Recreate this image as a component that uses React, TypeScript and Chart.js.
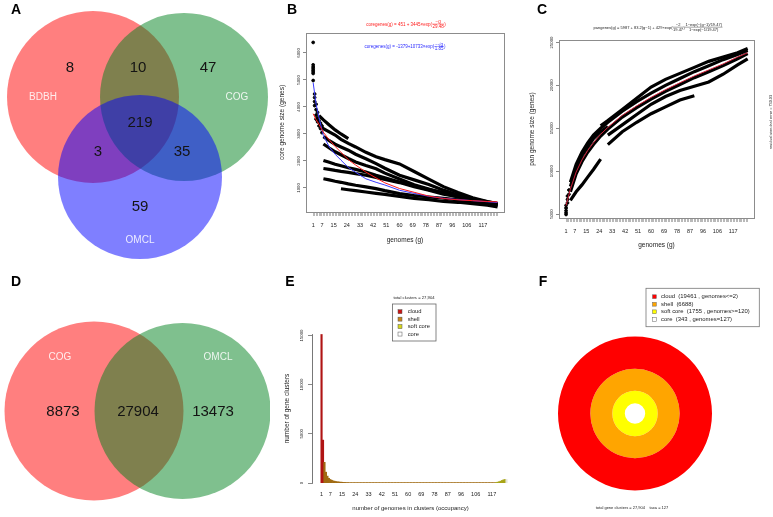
import React, { useEffect, useRef } from 'react';
import { Chart, registerables } from 'chart.js';

Chart.register(...registerables);

const FF = '"Liberation Sans", Arial, Helvetica, sans-serif';

// ================= DATA =================
// Panel A: three-set Venn
const vennASets = ['BDBH', 'COG', 'OMCL'];
// regions: BDBH only, BDBH∩COG, COG only, all three, BDBH∩OMCL, COG∩OMCL, OMCL only
const vennARegionCounts = [8, 10, 47, 219, 3, 35, 59];

// Panel D: two-set Venn
const vennDSets = ['COG', 'OMCL'];
const vennDRegionCounts = [8873, 27904, 13473];

// Panels B, C, E: genome axis
const genomeTickLabels = [1, 7, 15, 24, 33, 42, 51, 60, 69, 78, 87, 96, 106, 117];
const genomeTotal = 127;

// Panel B: core genome
const bGenomes = [1, 3, 5, 8, 12, 16, 20, 25, 30, 37, 44, 50, 60, 70, 80, 90, 100, 110, 120, 127];
const bStrip1 = [null, null, 3680, 3520, 3330, 3150, 3000, 2830, null, null, null, null, null, null, null, null, null, null, null, null];
const bStrip2 = [null, null, 3350, 3200, 3080, 2960, 2800, 2650, 2520, 2320, 2160, 2050, 1890, 1610, 1330, 1050, 830, 640, 500, 420];
const bStrip3 = [null, null, null, 2900, 2750, 2620, 2520, 2400, 2250, 2080, 1900, 1730, 1470, 1300, 1130, 920, 740, 600, 450, 360];
const bStrip4 = [null, null, null, 2630, 2480, 2340, 2230, 2090, 1960, 1830, 1710, 1550, 1330, 1120, 960, 810, 670, 560, 470, 420];
const bStrip5 = [null, null, null, 2020, 1950, 1880, 1820, 1750, 1690, 1590, 1470, 1380, 1220, 1080, 940, 830, 730, 600, 490, 420];
const bStrip6 = [null, null, null, 1720, 1690, 1650, 1615, 1580, 1530, 1470, 1390, 1320, 1200, 1050, 920, 770, 680, 580, 470, 400];
const bStrip7 = [null, null, null, 1340, 1300, 1250, 1210, 1150, 1100, 1040, 975, 900, 790, 720, 665, 620, 560, 480, 420, 360];
const bStrip8 = [null, null, null, null, null, null, 970, 935, 900, 850, 800, 760, 690, 615, 570, 500, 470, 420, 360, 300];
const bFitExp = [3750, 3530, 3350, 3060, 2780, 2540, 2320, 2050, 1850, 1590, 1370, 1190, 980, 840, 700, 610, 560, 530, 500, 485];
const bFitSqrt = [4900, 4100, 3600, 2940, 2520, 2250, 2030, 1760, 1580, 1340, 1210, 1110, 915, 800, 690, 620, 570, 530, 490, 460];
const bEarlyG = [1, 1, 1, 1, 1, 1, 1, 1, 2, 2, 2, 2, 3, 3, 3, 3, 4, 4, 4, 5, 5, 6, 6, 7, 7];
const bEarlyV = [6390, 5560, 5480, 5420, 5360, 5300, 5240, 4980, 4480, 4350, 4200, 4050, 4100, 3900, 3700, 3550, 3800, 3600, 3450, 3500, 3300, 3400, 3200, 3300, 3050];
const bYTicks = [1000, 2000, 3000, 4000, 5000, 6000];

// Panel C: pan genome
const cGenomes = [1, 4, 8, 12, 16, 20, 25, 30, 40, 50, 60, 70, 80, 90, 100, 110, 120, 127];
const cFit = [6000, 7900, 9900, 11300, 12400, 13300, 14300, 15100, 16500, 17600, 18600, 19500, 20300, 21100, 21800, 22500, 23300, 23800];
const cStrip1 = [null, null, null, null, null, null, 15300, 15900, 17200, 18500, 19800, 20700, 21400, 22100, 22800, 23300, 23800, 24300];
const cStrip2 = [null, 8700, 10800, 12200, 13300, 14200, 15000, 15700, 17000, 18100, 19100, 20000, 20800, 21600, 22300, 23000, 23600, 24100];
const cStrip3 = [null, 7600, 9700, 11100, 12200, 13100, 14100, 14900, 16300, 17400, 18400, 19300, 20100, 20900, 21600, 22300, 23100, 23700];
const cStrip4 = [null, 6600, 7600, 8400, 9300, 10200, 11400, null, null, null, null, null, null, null, null, null, null, null];
const cStrip5 = [null, null, null, null, null, null, null, 13100, 14600, 15700, 16700, 17500, 18300, 18800, null, null, null, null];
const cStrip6 = [null, null, null, null, null, null, null, 14200, 15400, 16600, 17800, 18700, 19400, 19900, 20400, 21300, 22400, 23100];
const cStrip7 = [null, 8200, 10300, 11800, 12800, 13800, 14600, 15200, null, null, null, null, null, null, null, null, null, null];
const cEarlyG = [1, 1, 1, 1, 1, 2, 2, 2, 3, 3];
const cEarlyV = [4950, 5150, 5400, 5700, 6000, 6300, 6700, 7100, 7300, 7800];
const cYTicks = [5000, 10000, 15000, 20000, 25000];

// Panel E: occupancy histogram (occupancy 1..127)
const eCounts = [
  15100, 4361,
  2100, 1100, 700, 480, 360, 280, 220, 180, 150, 125, 105, 90, 78,
  66, 57, 50, 44, 39, 35, 31, 28, 25, 23, 21, 19, 17, 16, 15,
  14, 13, 12, 11, 10, 9, 8, 8, 7, 7, 6, 6, 5, 5, 5,
  4, 4, 4, 4, 3, 3, 3, 3, 3, 2, 2, 2, 2, 2, 2,
  1, 1, 1, 1, 1, 1, 1, 1, 1, 1, 1, 1, 1, 1, 1, 1, 1, 1, 1, 1, 1, 1, 1, 1, 1,
  1, 1, 1, 1, 1, 1, 1, 1, 1, 1, 1, 1, 1, 1, 1, 1, 1, 1, 1, 1, 1, 1, 1, 1, 1,
  1, 1, 1, 2, 2, 2, 2, 2, 2,
  60, 90, 130, 190, 260, 330, 352,
  343,
];
const eYTicks = [0, 5000, 10000, 15000];
const eGroups = ['cloud', 'shell', 'soft core', 'core'];
const eTotalClusters = '27,904';

// Panel F: pangenome composition
const fGroups = ['cloud', 'shell', 'soft core', 'core'];
const fGroupCounts = [19461, 6688, 1755, 343];
const fGroupNotes = [' , genomes<=2', '', ' , genomes>=120', ' , genomes=127'];
const fTotal = '27,904';
const fTaxa = 127;

// ================= STYLE / LAYOUT =================
const VENN_A_CIRCLES = [
  { cx: 93, cy: 97, r: 86, color: 'rgba(255,0,0,0.5)' },
  { cx: 184, cy: 97, r: 84, color: 'rgba(0,130,30,0.5)' },
  { cx: 140, cy: 177, r: 82, color: 'rgba(0,0,255,0.5)' },
];
const VENN_A_SETPOS = [[43, 97], [237, 97], [140, 240]];
const VENN_A_REGIONPOS = [[70, 68], [138, 68], [208, 68], [140, 123], [98, 152], [182, 152], [140, 207]];
const VENN_D_CIRCLES = [
  { cx: 94, cy: 151, r: 89.5, color: 'rgba(255,0,0,0.5)' },
  { cx: 182.5, cy: 151, r: 88, color: 'rgba(0,130,30,0.5)' },
];
const VENN_D_SETPOS = [[60, 97], [218, 97]];
const VENN_D_REGIONPOS = [[63, 152], [138, 152], [213, 152]];
const E_LEGEND_COLORS = ['#c81414', '#c8841a', '#d6d61c', '#ffffff'];
const E_BAR_COLORS = ['#b01414', '#a06a12', '#a8a416', '#e6e6da'];
const F_COLORS = ['#ff0000', '#ffa500', '#ffff00', '#ffffff'];
const F_RADII = [77, 44.7, 22.7, 10.2];

// ================= HELPERS =================
type TO = { size: number; color?: string; align?: CanvasTextAlign; baseline?: CanvasTextBaseline; bold?: boolean; rot?: number };
function drawText(ctx: CanvasRenderingContext2D, s: string, x: number, y: number, o: TO) {
  ctx.save();
  ctx.font = `${o.bold ? 'bold ' : ''}${o.size}px ${FF}`;
  ctx.fillStyle = o.color || '#000';
  ctx.textAlign = o.align || 'center';
  ctx.textBaseline = o.baseline || 'middle';
  ctx.translate(x, y);
  if (o.rot) ctx.rotate(o.rot);
  ctx.fillText(s, 0, 0);
  ctx.restore();
}

type Part = string | { num: string; den: string };
function drawFormula(ctx: CanvasRenderingContext2D, parts: Part[], cx: number, y: number, size: number, color: string) {
  ctx.save();
  ctx.font = `${size}px ${FF}`;
  ctx.fillStyle = color;
  ctx.strokeStyle = color;
  ctx.lineWidth = 0.4;
  ctx.textBaseline = 'alphabetic';
  const widths = parts.map((p) =>
    typeof p === 'string' ? ctx.measureText(p).width : Math.max(ctx.measureText(p.num).width, ctx.measureText(p.den).width) + 1
  );
  let x = cx - widths.reduce((a, b) => a + b, 0) / 2;
  parts.forEach((p, i) => {
    if (typeof p === 'string') {
      ctx.textAlign = 'left';
      ctx.fillText(p, x, y);
    } else {
      const mid = y - size * 0.33;
      ctx.textAlign = 'center';
      ctx.fillText(p.num, x + widths[i] / 2, mid - 0.8);
      ctx.fillText(p.den, x + widths[i] / 2, mid + size * 0.8 + 0.3);
      ctx.beginPath();
      ctx.moveTo(x, mid);
      ctx.lineTo(x + widths[i], mid);
      ctx.stroke();
    }
    x += widths[i];
  });
  ctx.restore();
}

const toPts = (xs: number[], ys: (number | null)[]) =>
  xs.map((x, i) => ({ x, y: ys[i] })).filter((p) => p.y !== null);

const allGenomes = Array.from({ length: genomeTotal }, (_, i) => i + 1);

const baseOpts = {
  animation: false,
  responsive: false,
  devicePixelRatio: 1,
  events: [],
  plugins: { legend: { display: false }, tooltip: { enabled: false } },
};

// ================= CONFIGS =================
function vennConfig(circles: any[], w: number, h: number, sets: string[], setPos: number[][], counts: number[], regionPos: number[][], letter: string, letterPos: number[]) {
  return {
    type: 'bubble',
    data: {
      datasets: circles
        .map((c) => ({ data: [{ x: c.cx, y: c.cy, r: c.r }], backgroundColor: c.color, borderWidth: 0, hoverRadius: 0, clip: false }))
        .reverse(),
    },
    options: {
      ...baseOpts,
      layout: { padding: 0, autoPadding: false },
      scales: {
        x: { type: 'linear', min: 0, max: w, display: false },
        y: { type: 'linear', min: 0, max: h, reverse: true, display: false },
      },
    },
    plugins: [
      {
        id: 'vennText',
        afterDatasetsDraw(chart: any) {
          const { ctx, scales } = chart;
          const px = (p: number[]) => [scales.x.getPixelForValue(p[0]), scales.y.getPixelForValue(p[1])];
          counts.forEach((c, i) => {
            const [x, y] = px(regionPos[i]);
            drawText(ctx, String(c), x, y, { size: 15, color: '#141414' });
          });
          sets.forEach((s, i) => {
            const [x, y] = px(setPos[i]);
            drawText(ctx, s, x, y, { size: 10, color: 'rgba(255,255,255,0.85)' });
          });
          drawText(ctx, letter, letterPos[0], letterPos[1], { size: 14, bold: true });
        },
      },
    ],
  };
}

function genomeXAxis(title: string, height: number, labelPad: number, titlePadBottom: number) {
  return {
    type: 'linear',
    min: -3.9,
    max: 131.4,
    afterBuildTicks: (s: any) => {
      s.ticks = allGenomes.map((v) => ({ value: v }));
    },
    afterFit: (s: any) => {
      s.height = height;
    },
    ticks: {
      autoSkip: false,
      maxRotation: 0,
      minRotation: 0,
      padding: labelPad,
      color: '#222',
      font: { family: FF, size: 5.5 },
      callback: (v: number) => (genomeTickLabels.includes(v) ? String(v) : ''),
    },
    grid: { drawOnChartArea: false, drawTicks: true, tickLength: 4, color: '#8a8a8a', lineWidth: 0.6 },
    border: { display: false },
    title: { display: true, text: title, color: '#222', font: { family: FF, size: 6.5 }, padding: { top: 0, bottom: titlePadBottom } },
  };
}

function valueYAxis(min: number, max: number, ticks: number[], title: string, width: number, titlePadTop: number, tickLen: number, border: boolean) {
  return {
    type: 'linear',
    min,
    max,
    afterBuildTicks: (s: any) => {
      s.ticks = ticks.map((v) => ({ value: v }));
    },
    afterFit: (s: any) => {
      s.width = width;
    },
    ticks: { display: false },
    grid: { drawOnChartArea: false, drawTicks: true, tickLength: tickLen, color: '#555', lineWidth: 0.7 },
    border: { display: border, color: '#555', width: 0.8 },
    title: { display: true, text: title, color: '#222', font: { family: FF, size: 6.5 }, padding: { top: titlePadTop, bottom: 0 } },
  };
}

function boxAndTicks(id: string, yTicks: number[], labelX: number, extra: (chart: any) => void) {
  return {
    id,
    afterDraw(chart: any) {
      const { ctx, chartArea: a, scales } = chart;
      ctx.save();
      ctx.strokeStyle = '#8c8c8c';
      ctx.lineWidth = 1;
      ctx.strokeRect(Math.round(a.left) + 0.5, Math.round(a.top) + 0.5, Math.round(a.right - a.left), Math.round(a.bottom - a.top));
      ctx.restore();
      yTicks.forEach((v) =>
        drawText(ctx, String(v), labelX, scales.y.getPixelForValue(v), { size: 4.3, color: '#222', rot: -Math.PI / 2 })
      );
      extra(chart);
    },
  };
}

const STRIP_W = 3.2;

function coreConfig() {
  const strips = [bStrip1, bStrip2, bStrip3, bStrip4, bStrip5, bStrip6, bStrip7, bStrip8];
  return {
    type: 'line',
    data: {
      datasets: [
        { data: toPts(bGenomes, bFitExp), borderColor: '#ff1a1a', borderWidth: 1, pointRadius: 0, order: 0 },
        { data: toPts(bGenomes, bFitSqrt), borderColor: '#3a3aff', borderWidth: 1, pointRadius: 0, order: 1 },
        ...strips.map((s) => ({ data: toPts(bGenomes, s), borderColor: '#000', borderWidth: STRIP_W, pointRadius: 0, order: 2 })),
        { type: 'scatter', data: toPts(bEarlyG, bEarlyV), backgroundColor: '#000', borderColor: '#000', pointRadius: 1.4, order: 2 },
      ],
    },
    options: {
      ...baseOpts,
      layout: { padding: { top: 33, right: 16, left: 0, bottom: 0 } },
      elements: { line: { tension: 0 } },
      scales: {
        x: genomeXAxis('genomes (g)', 48, 6, 15.4),
        y: valueYAxis(110, 6740, bYTicks, 'core genome size (genes)', 36, 8.1, 3, false),
      },
    },
    plugins: [
      boxAndTicks('bDecor', bYTicks, 29, (chart: any) => {
        const ctx = chart.ctx;
        drawFormula(ctx, ['coregenes(g) = 451 + 3445\u00d7exp(', { num: '\u2212g', den: '29.48' }, ')'], 136, 25.5, 4.5, '#ff1a1a');
        drawFormula(ctx, ['coregenes(g) = -1379+10733\u00d7exp(', { num: '\u2212\u221ag', den: '1.85' }, ')'], 135, 48, 4.5, '#2a2aff');
        drawText(ctx, 'B', 22, 10.5, { size: 14, bold: true });
      }),
    ],
  };
}

function panConfig() {
  const strips = [cStrip1, cStrip2, cStrip3, cStrip4, cStrip5, cStrip6, cStrip7];
  return {
    type: 'line',
    data: {
      datasets: [
        { data: toPts(cGenomes, cFit), borderColor: '#d0203a', borderWidth: 1, pointRadius: 0, order: 0 },
        ...strips.map((s) => ({ data: toPts(cGenomes, s), borderColor: '#000', borderWidth: STRIP_W, pointRadius: 0, order: 2 })),
        { type: 'scatter', data: toPts(cEarlyG, cEarlyV), backgroundColor: '#000', borderColor: '#000', pointRadius: 1.4, order: 2 },
      ],
    },
    options: {
      ...baseOpts,
      layout: { padding: { top: 40, right: 19, left: 0, bottom: 0 } },
      elements: { line: { tension: 0 } },
      scales: {
        x: genomeXAxis('genomes (g)', 42, 6, 10.4),
        y: valueYAxis(4540, 25290, cYTicks, 'pan genome size (genes)', 39, 8.1, 3, false),
      },
    },
    plugins: [
      boxAndTicks('cDecor', cYTicks, 31.5, (chart: any) => {
        const ctx = chart.ctx;
        drawFormula(
          ctx,
          [
            'pangenes(g) = 5987 + 83.2(g\u22121) + 429\u00d7exp(',
            { num: '\u22122', den: '19.47' },
            ')',
            { num: '1\u2212exp(\u2212(g\u22121)/19.47)', den: '1\u2212exp(\u22121/19.47)' },
          ],
          138,
          28.5,
          4,
          '#222'
        );
        drawText(ctx, 'residual standard error = 730.03', 250.5, 122, { size: 3.8, color: '#222', rot: -Math.PI / 2 });
        drawText(ctx, 'C', 22, 10.5, { size: 14, bold: true });
      }),
    ],
  };
}

function occupancyConfig() {
  const groupOf = (occ: number) => (occ <= 2 ? 0 : occ >= genomeTotal ? 3 : occ >= 120 ? 2 : 1);
  return {
    type: 'bar',
    data: {
      datasets: [
        {
          data: eCounts.map((c, i) => ({ x: i + 1, y: c })),
          backgroundColor: eCounts.map((_, i) => E_BAR_COLORS[groupOf(i + 1)]),
          borderWidth: 0,
          barPercentage: 1,
          categoryPercentage: 1,
        },
      ],
    },
    options: {
      ...baseOpts,
      layout: { padding: { top: 74, right: 11, left: 0, bottom: 0 } },
      scales: {
        x: {
          type: 'linear',
          offset: false,
          min: -5.5,
          max: 128.7,
          afterBuildTicks: (s: any) => {
            s.ticks = genomeTickLabels.map((v) => ({ value: v }));
          },
          afterFit: (s: any) => {
            s.height = 34;
          },
          ticks: { autoSkip: false, maxRotation: 0, padding: 8.5, color: '#222', font: { family: FF, size: 5.5 } },
          grid: { display: false, drawTicks: false },
          border: { display: false },
          title: {
            display: true,
            text: 'number of genomes in clusters (occupancy)',
            color: '#222',
            font: { family: FF, size: 6 },
            padding: { top: 0, bottom: 5.4 },
          },
        },
        y: valueYAxis(0, 15150, eYTicks, 'number of gene clusters', 42, 13, 4, true),
      },
    },
    plugins: [
      {
        id: 'eDecor',
        afterDraw(chart: any) {
          const { ctx, scales } = chart;
          eYTicks.forEach((v) =>
            drawText(ctx, String(v), 31.7, scales.y.getPixelForValue(v), { size: 4.3, color: '#222', rot: -Math.PI / 2 })
          );
          drawText(ctx, `total clusters = ${eTotalClusters}`, 144, 37.7, { size: 4.2, color: '#222' });
          ctx.save();
          ctx.strokeStyle = '#666';
          ctx.lineWidth = 0.8;
          ctx.strokeRect(122.5, 44, 43.5, 37);
          eGroups.forEach((g, i) => {
            const y = 51.7 + i * 7.45;
            ctx.fillStyle = E_LEGEND_COLORS[i];
            ctx.fillRect(128, y - 2, 4, 4);
            ctx.strokeStyle = '#555';
            ctx.lineWidth = 0.5;
            ctx.strokeRect(128, y - 2, 4, 4);
            drawText(ctx, g, 137.7, y, { size: 5.8, color: '#222', align: 'left' });
          });
          ctx.restore();
          drawText(ctx, 'E', 20, 22, { size: 14, bold: true });
        },
      },
    ],
  };
}

function compositionConfig() {
  const weights = F_RADII.map((r, i) => r - (F_RADII[i + 1] || 0));
  return {
    type: 'doughnut',
    data: {
      labels: ['genes'],
      datasets: fGroupCounts.map((c, i) => ({
        label: fGroups[i],
        data: [c],
        backgroundColor: F_COLORS[i],
        borderWidth: 0,
        hoverOffset: 0,
        offset: 0,
        weight: weights[i],
      })),
    },
    options: {
      ...baseOpts,
      cutout: 0,
      spacing: 0,
      layout: { padding: { left: 38, top: 76.5, right: 61, bottom: 26.5 } },
    },
    plugins: [
      {
        id: 'fDecor',
        afterDraw(chart: any) {
          const ctx = chart.ctx;
          ctx.save();
          ctx.strokeStyle = '#777';
          ctx.lineWidth = 0.8;
          ctx.strokeRect(126, 28.3, 113.3, 38.4);
          fGroups.forEach((g, i) => {
            const y = 36.7 + i * 7.55;
            ctx.fillStyle = F_COLORS[i];
            ctx.fillRect(132.5, y - 1.9, 3.8, 3.8);
            ctx.strokeStyle = '#666';
            ctx.lineWidth = 0.5;
            ctx.strokeRect(132.5, y - 1.9, 3.8, 3.8);
            drawText(ctx, `${g}  (${fGroupCounts[i]}${fGroupNotes[i]})`, 141, y, { size: 5.9, color: '#222', align: 'left' });
          });
          ctx.restore();
          drawText(ctx, `total gene clusters = ${fTotal}    taxa = ${fTaxa}`, 112, 248.3, { size: 4, color: '#222' });
          drawText(ctx, 'F', 23, 22, { size: 14, bold: true });
        },
      },
    ],
  };
}

// ================= COMPONENTS =================
function ChartBox({ left, top, width, height, make }: { left: number; top: number; width: number; height: number; make: () => any }) {
  const ref = useRef<HTMLCanvasElement | null>(null);
  useEffect(() => {
    if (!ref.current) return;
    const chart = new Chart(ref.current, make());
    return () => chart.destroy();
  }, []);
  return (
    <canvas
      ref={ref}
      width={width}
      height={height}
      style={{ position: 'absolute', left, top, width, height, display: 'block' }}
    />
  );
}

export default function App() {
  return (
    <div style={{ position: 'absolute', left: 0, top: 0, width: 773, height: 517, background: '#fff', overflow: 'hidden' }}>
      <ChartBox
        left={0}
        top={0}
        width={270}
        height={260}
        make={() => vennConfig(VENN_A_CIRCLES, 270, 260, vennASets, VENN_A_SETPOS, vennARegionCounts, VENN_A_REGIONPOS, 'A', [16, 10.5])}
      />
      <ChartBox left={270} top={0} width={250} height={260} make={coreConfig} />
      <ChartBox left={520} top={0} width={253} height={260} make={panConfig} />
      <ChartBox
        left={0}
        top={260}
        width={270}
        height={257}
        make={() => vennConfig(VENN_D_CIRCLES, 270, 257, vennDSets, VENN_D_SETPOS, vennDRegionCounts, VENN_D_REGIONPOS, 'D', [16, 22])}
      />
      <ChartBox left={270} top={260} width={250} height={257} make={occupancyConfig} />
      <ChartBox left={520} top={260} width={253} height={257} make={compositionConfig} />
    </div>
  );
}
